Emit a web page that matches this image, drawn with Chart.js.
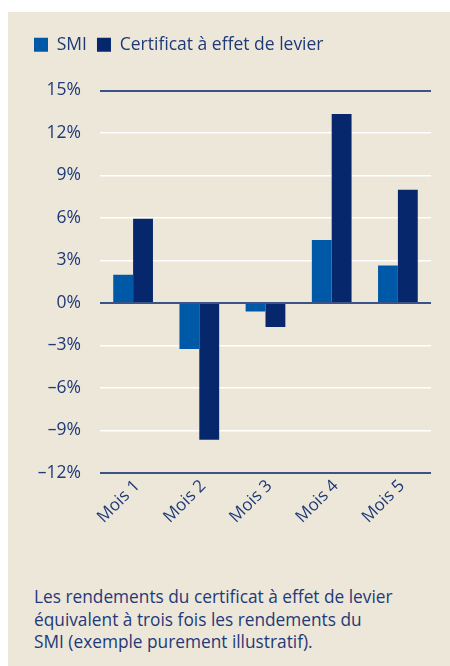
<!DOCTYPE html>
<html>
<head>
<meta charset="utf-8">
<script src="https://cdn.jsdelivr.net/npm/chart.js@4"></script>
<style>
  html, body { margin: 0; padding: 0; background: #ffffff; width: 450px; height: 666px; overflow: hidden; }
  #panel { position: absolute; left: 8px; top: 12px; width: 442px; height: 654px; background: #ede7da; }
  #wrap { position: absolute; left: 0; top: 0; width: 442px; height: 550px; }
  #caption { position: absolute; left: 26px; top: 574px; width: 416px; font-family: "Open Sans", sans-serif; font-size: 17.3px; line-height: 22.5px; color: #1e3a78; white-space: nowrap; }
</style>
</head>
<body>
<div id="panel">
  <div id="wrap"><canvas id="c"></canvas></div>
  <div id="caption">Les rendements du certificat à effet de levier<br>équivalent à trois fois les rendements du<br>SMI (exemple purement illustratif).</div>
</div>
<script>
const categories = ["Mois 1", "Mois 2", "Mois 3", "Mois 4", "Mois 5"];
const seriesNames = ["SMI", "Certificat à effet de levier"];
const smiValues = [2.0, -3.25, -0.6, 4.45, 2.65];
const certificatValues = [5.95, -9.65, -1.7, 13.35, 8.0];
const yTicks = [15, 12, 9, 6, 3, 0, -3, -6, -9, -12];

const textColor = '#1e3a78';
const fontFamily = '"Open Sans", sans-serif';

const legendMargin = {
  id: 'legendMargin',
  beforeInit(chart) {
    const origFit = chart.legend.fit;
    chart.legend.fit = function () {
      origFit.bind(chart.legend)();
      this.height += 27;
    };
  }
};

new Chart(document.getElementById('c'), {
  type: 'bar',
  data: {
    labels: categories,
    datasets: [
      { label: seriesNames[0], data: smiValues, backgroundColor: '#0059a6', borderWidth: 0, categoryPercentage: 0.6, barPercentage: 1.0 },
      { label: seriesNames[1], data: certificatValues, backgroundColor: '#06276c', borderWidth: 0, categoryPercentage: 0.6, barPercentage: 1.0 }
    ]
  },
  options: {
    responsive: true,
    maintainAspectRatio: false,
    animation: false,
    layout: { padding: { left: 16, right: 19, top: 14, bottom: 0 } },
    plugins: {
      tooltip: { enabled: false },
      legend: {
        display: true,
        position: 'top',
        align: 'start',
        labels: {
          boxWidth: 14,
          boxHeight: 14,
          padding: 10,
          color: textColor,
          font: { family: fontFamily, size: 17.5 }
        }
      }
    },
    scales: {
      x: {
        grid: { display: false },
        border: { display: false },
        ticks: {
          color: textColor,
          font: { family: fontFamily, size: 17 },
          maxRotation: 45,
          minRotation: 45,
          padding: -5,
          labelOffset: 4
        },
        afterFit(scale) { scale.height = 89; }
      },
      y: {
        min: -12,
        max: 15,
        afterBuildTicks(scale) { scale.ticks = yTicks.map(v => ({ value: v })); },
        afterFit(scale) { scale.width = 76; },
        border: { display: false },
        grid: {
          drawTicks: false,
          color: ctx => ([15, 0, -12].includes(ctx.tick.value) ? '#3b5488' : '#ffffff'),
          lineWidth: ctx => ([15, 0, -12].includes(ctx.tick.value) ? 2 : 1.5)
        },
        ticks: {
          color: textColor,
          font: { family: fontFamily, size: 17.5 },
          padding: 19,
          callback: v => (v < 0 ? '\u2013' + Math.abs(v) : String(v)) + '%'
        }
      }
    }
  },
  plugins: [legendMargin]
});
</script>
</body>
</html>
